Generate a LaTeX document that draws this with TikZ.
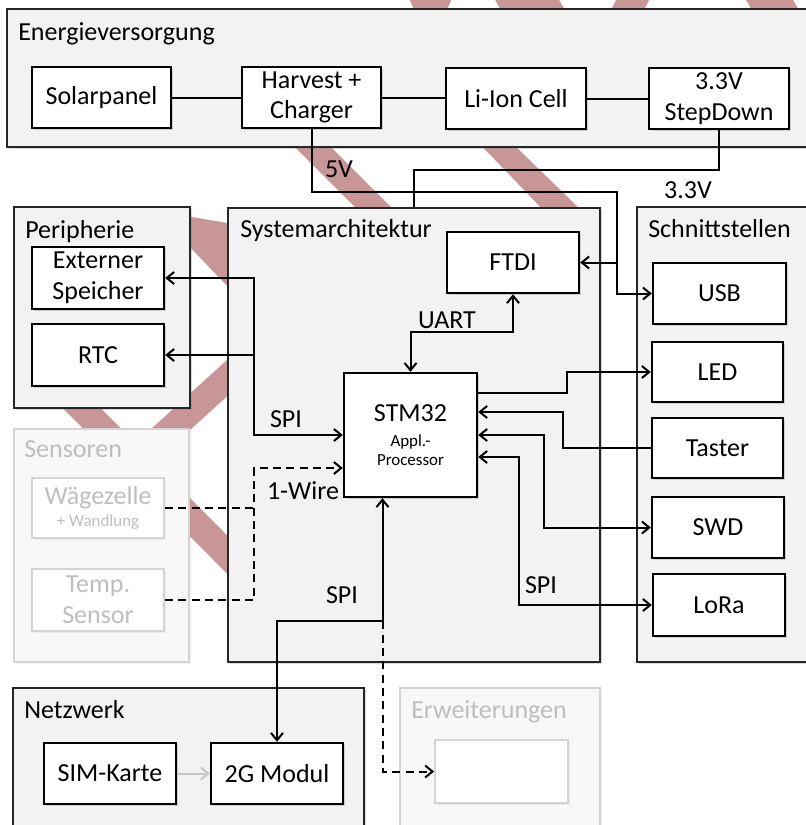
\documentclass[tikz,border=0pt]{standalone}
\usepackage{fontspec}
\setmainfont{Carlito}
\usetikzlibrary{arrows.meta,calc,shadows}
\definecolor{stripe}{RGB}{200,150,150}
\definecolor{boxfill}{RGB}{242,242,242}
\definecolor{lightfill}{RGB}{248,248,248}
\definecolor{lightline}{RGB}{212,212,212}
\definecolor{greytext}{RGB}{190,190,190}
\definecolor{darkline}{RGB}{38,38,38}
\newcommand\Lfont{\fontsize{19.5}{23}\selectfont}
\newcommand\Sfont{\fontsize{12.7}{14}\selectfont}
\begin{document}
\begin{tikzpicture}[x=0.75pt,y=-0.75pt,
  >={Straight Barb[length=5.5pt,width=9pt]},
  sz/.style 2 args={minimum width={#1*0.75pt}, minimum height={#2*0.75pt}},
  container/.style={draw=darkline, line width=1.2pt, fill=boxfill, inner sep=0pt,
    drop shadow={shadow xshift=1.5pt, shadow yshift=-1.5pt, opacity=0.3}},
  lightcontainer/.style={draw=lightline, line width=1.2pt, fill=lightfill, inner sep=0pt,
    drop shadow={shadow xshift=1.5pt, shadow yshift=-1.5pt, opacity=0.1}},
  block/.style={draw=black, line width=1.8pt, fill=white, inner sep=0pt, align=center,
    font=\Lfont, drop shadow={shadow xshift=1.5pt, shadow yshift=-1.5pt, opacity=0.3}},
  lightblock/.style={draw=lightline, line width=1.4pt, fill=white, inner sep=0pt, align=center,
    font=\Lfont, text=greytext, drop shadow={shadow xshift=1.5pt, shadow yshift=-1.5pt, opacity=0.1}},
  title/.style={anchor=base west, inner sep=0pt, font=\Lfont},
  lbl/.style={inner sep=0pt, font=\Lfont},
  conn/.style={draw=black, line width=1.5pt},
  dashline/.style={dash pattern=on 6pt off 4pt},
]
\useasboundingbox (0,0) rectangle (806,825);
\clip (0,0) rectangle (806,825);
\fill[white] (0,0) rectangle (806,825);

% background stripes
\fill[stripe] (409,-2) -- (452,-2) -- (446,12) -- (415,12) -- cycle;
\fill[stripe] (494,-2) -- (558,-2) -- (566,12) -- (502,12) -- cycle;
\fill[stripe] (617,-2) -- (650,-2) -- (643,12) -- (610,12) -- cycle;
\fill[stripe] (745,-2) -- (792,-2) -- (800,12) -- (753,12) -- cycle;
\fill[stripe] (288,140) -- (324,140) -- (399,215) -- (363,215) -- cycle;
\fill[stripe] (476,140) -- (509,140) -- (586,215) -- (548,215) -- cycle;
\fill[stripe] (186,216) -- (233,224) -- (233,292) -- (186,243) -- cycle;
\fill[stripe] (117,460) -- (271,320) -- (289,340) -- (135,480) -- cycle;
\fill[stripe] (49.6,356.5) -- (309.6,618.5) -- (290.4,637.5) -- (30.4,375.5) -- cycle;

% containers
\node[container, sz={823}{138}] (energie) at (418.5,78) {};
\node[container, sz={176}{201}] (peri) at (102,307.5) {};
\node[lightcontainer, sz={175}{233}] (sens) at (101.5,545.5) {};
\node[container, sz={372}{454}] (sys) at (414,435) {};
\node[container, sz={193}{455}] (schnitt) at (733.5,434.5) {};
\node[container, sz={351}{152}] (netz) at (188.5,764) {};
\node[lightcontainer, sz={200}{152}] (erw) at (500,764) {};

% titles
\node[title] (tEn) at (18,40) {Energieversorgung};
\node[title] (tPe) at (25,238) {Peripherie};
\node[title] (tSy) at (240,237) {Systemarchitektur};
\node[title] (tSc) at (648,237) {Schnittstellen};
\node[title, text=greytext] (tSe) at (24,457) {Sensoren};
\node[title] (tNe) at (24,718) {Netzwerk};
\node[title, text=greytext] (tEr) at (411,718) {Erweiterungen};

% blocks
\node[block, sz={139}{61}] (solar) at (101.5,97.5) {Solarpanel};
\node[block, sz={139}{61}] (harvest) at (311.5,97.5) {Harvest +\\Charger};
\node[block, sz={140}{61}] (liion) at (516,98.5) {Li-Ion Cell};
\node[block, sz={140}{61}] (stepdown) at (719,98.5) {3.3V\\StepDown};
\node[block, sz={132}{62}] (ext) at (98,278) {Externer\\Speicher};
\node[block, sz={132}{62}] (rtc) at (98,355) {RTC};
\node[lightblock, sz={132}{60}, font=\Sfont] (waege) at (98,508) {{\Lfont Wägezelle}\\[3pt]+ Wandlung};
\node[lightblock, sz={132}{62}] (temp) at (98,600) {Temp.\\Sensor};
\node[block, sz={132}{61}] (ftdi) at (513,262.5) {FTDI};
\node[block, sz={133}{124}, font=\Sfont] (stm) at (410.5,435) {{\Lfont STM32}\\[5pt]Appl.-\\Processor};
\node[block, sz={133}{61}] (usb) at (719.5,293.5) {USB};
\node[block, sz={131}{60}] (led) at (717.5,372) {LED};
\node[block, sz={131}{60}] (taster) at (717.5,448) {Taster};
\node[block, sz={132}{61}] (swd) at (718,527.5) {SWD};
\node[block, sz={132}{62}] (lora) at (719,605) {LoRa};
\node[block, sz={132}{61}] (sim) at (110,773.5) {SIM-Karte};
\node[block, sz={132}{61}] (gsm) at (277,773.5) {2G Modul};
\node[lightblock, sz={133}{63}] (erwbox) at (501.5,771.5) {};

% connectors
\draw[conn] (solar.east) -- (harvest.west);
\draw[conn] (harvest.east) -- (harvest.east -| liion.west);
\draw[conn] (liion.east) -- (stepdown.west);
\coordinate (j5) at (617,262.5);
\draw[conn] (harvest.south) -- ++(0,63) -| (j5);
\draw[conn] (stepdown.south) -- ++(0,39.5) -| (sys.north);
\draw[conn,<->] (ftdi.east) -- (j5) |- (usb.west);

\coordinate (spi1) at (254,278);
\draw[conn,<->] (ext.east) -- (spi1) |- (stm.west);
\draw[conn,->] (spi1 |- rtc.east) -- (rtc.east);

\coordinate (ow) at (254,468);
\draw[conn,dashline,->] (temp.east) -| (ow) -- (ow -| stm.west);
\draw[conn,dashline] (waege.east) -- (waege.east -| ow);

\draw[conn,<->] (stm.north) -- ++(0,-40) -| (ftdi.south);
\draw[conn,->] ($(stm.east)+(0,-42)$) -- ++(89,0) |- (led.west);
\draw[conn,->] (taster.west) -- ++(-88,0) |- ($(stm.east)+(0,-23)$);
\draw[conn,<->] (stm.east) -- ++(66,0) |- (swd.west);
\draw[conn,<->] ($(stm.east)+(0,22)$) -- ++(41,0) |- (lora.west);
\coordinate (jsp) at ($(stm.south)+(-28,123)$);
\draw[conn,<->] ($(stm.south)+(-28,0)$) -- (jsp) -| (gsm.north);
\draw[conn,dashline,->] (jsp) |- (erwbox.west);
\draw[conn,->,draw=gray!45] (sim.east) -- (gsm.west);

% labels
\node[lbl] (l5v) at (339,169) {5V};
\node[lbl] (l33) at (688,190) {3.3V};
\node[lbl] (lspi1) at (286,419) {SPI};
\node[lbl] (lwire) at (303,491) {1-Wire};
\node[lbl] (luart) at (447,320) {UART};
\node[lbl] (lspi2) at (541,585) {SPI};
\node[lbl] (lspi3) at (342,595) {SPI};
\end{tikzpicture}
\end{document}
